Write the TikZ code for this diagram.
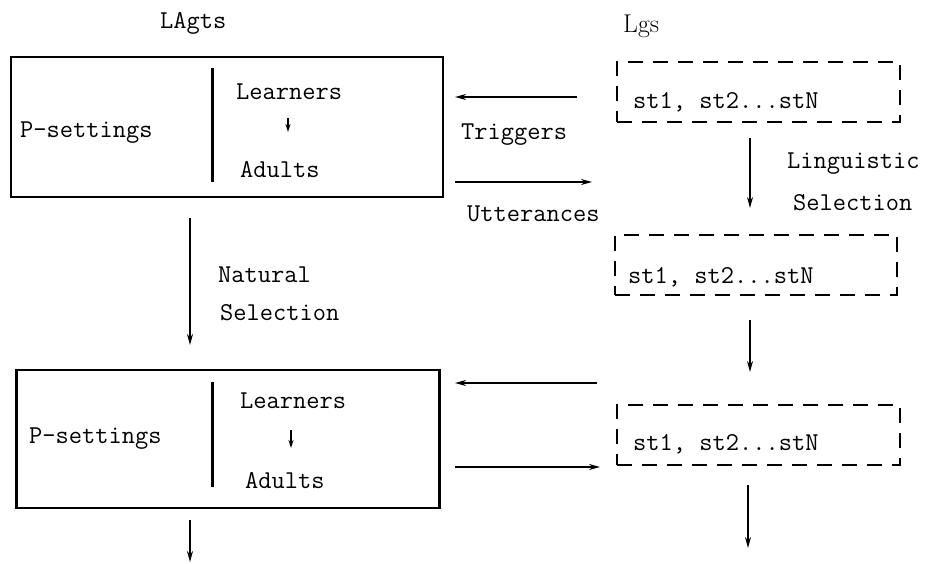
\documentclass[tikz,border=0pt]{standalone}
\usetikzlibrary{arrows.meta}

\begin{document}
\begin{tikzpicture}[x=1pt,y=-1pt,
  t/.style={font=\fontsize{25.7}{31}\selectfont\ttfamily,inner sep=0pt,anchor=base west},
  rm/.style={font=\fontsize{25.7}{31}\selectfont\rmfamily,inner sep=0pt,anchor=base west},
  pop/.style={draw,line width=2.4pt,inner sep=0pt},
  lg/.style={draw,line width=2.4pt,inner sep=0pt,dash pattern=on 15pt off 10pt},
  fl/.style={line width=1.6pt,-{Stealth[length=11pt,width=6pt]}},
  sm/.style={line width=1.6pt,-{Stealth[length=8pt,width=5pt]}}]
  \useasboundingbox (0,0) rectangle (928,564);
  % headings
  \node(lagts) at (160,29)[t]{LAgts};
  \node(lgs) at (623,33)[rm]{Lgs};
  % agent populations
  \node(pop1) at (227,127)[pop,minimum width=432pt,minimum height=140pt]{};
  \node(pop2) at (228,439)[pop,minimum width=423pt,minimum height=138pt]{};
  \draw[line width=3pt](212,68) -- (212,182);
  \draw[line width=3pt](212,382) -- (212,487);
  \node(ps1) at (20,138)[t]{P-settings};
  \node(le1) at (236,100)[t]{Learners};
  \node(ad1) at (240,178)[t]{Adults};
  \node(ps2) at (29,443)[t]{P-settings};
  \node(le2) at (240,408)[t]{Learners};
  \node(ad2) at (245,488)[t]{Adults};
  \coordinate(l1) at (288,118);
  \coordinate(a1) at (288,132);
  \coordinate(l2) at (291,430);
  \coordinate(a2) at (291,448);
  \draw[sm](l1) -- (a1);
  \draw[sm](l2) -- (a2);
  % languages
  \node(lg1) at (758.5,92)[lg,minimum width=283pt,minimum height=60pt]{};
  \node(lg2) at (756,265)[lg,minimum width=282pt,minimum height=60pt]{};
  \node(lg3) at (758.5,435)[lg,minimum width=283pt,minimum height=60pt]{};
  \node(st1) at (633,109)[t]{st1, st2...stN};
  \node(st2) at (628,283)[t]{st1, st2...stN};
  \node(st3) at (633,450)[t]{st1, st2...stN};
  % exchanges between agents and languages
  \coordinate(tr1) at (577,97);
  \coordinate(tr2) at (455,97);
  \coordinate(ut1) at (455,182);
  \coordinate(ut2) at (592,182);
  \coordinate(tr3) at (597,383);
  \coordinate(tr4) at (455,383);
  \coordinate(ut3) at (455,467);
  \coordinate(ut4) at (600,467);
  \draw[fl](tr1) -- (tr2);
  \draw[fl](ut1) -- (ut2);
  \draw[fl](tr3) -- (tr4);
  \draw[fl](ut3) -- (ut4);
  \node(trig) at (461,140)[t]{Triggers};
  \node(utt) at (467,221)[t]{Utterances};
  % selection steps
  \coordinate(ls1) at (750,138);
  \coordinate(ls2) at (750,208);
  \coordinate(ls3) at (750,320);
  \coordinate(ls4) at (750,372);
  \coordinate(ls5) at (748,485);
  \coordinate(ls6) at (748,548);
  \coordinate(ns1) at (190,218);
  \coordinate(ns2) at (190,345);
  \coordinate(ns3) at (190,520);
  \coordinate(ns4) at (190,562);
  \draw[fl](ls1) -- (ls2);
  \draw[fl](ls3) -- (ls4);
  \draw[fl](ls5) -- (ls6);
  \draw[fl](ns1) -- (ns2);
  \draw[fl](ns3) -- (ns4);
  \node(ling) at (787,168)[t]{Linguistic};
  \node(lsel) at (793,210)[t]{Selection};
  \node(nat) at (218,282)[t]{Natural};
  \node(nsel) at (220,320)[t]{Selection};
\end{tikzpicture}
\end{document}
